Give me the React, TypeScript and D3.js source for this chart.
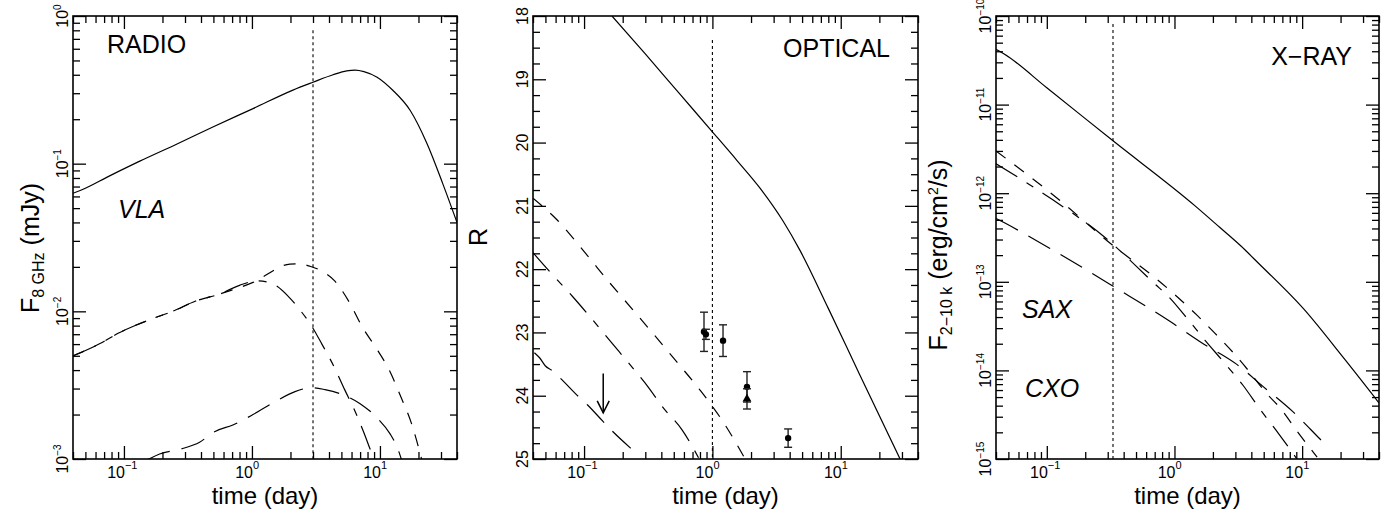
import React, { useRef, useEffect } from 'react'
import * as d3 from 'd3'

type Pt = [number, number]

const W = 1396
const H = 518
const TOP = 16
const BOTTOM = 459
const FONT = '"Liberation Sans", Arial, Helvetica, sans-serif'

// shared time axis (days)
const timeDomain: Pt = [0.04, 40]
const timeLabelPowers = [-1, 0, 1]

// RADIO panel, F at 8 GHz in mJy
const radioDomain: Pt = [1e-3, 1]
const radioLabelPowers = [-3, -2, -1, 0]
const radioSolid: Pt[] = [
  [0.04, 0.063], [0.046, 0.066], [0.078, 0.083], [0.133, 0.104], [0.26, 0.136], [0.5, 0.178],
  [1.02, 0.236], [2.09, 0.315], [3.0, 0.356], [4.3, 0.4], [5.5, 0.425], [6.4, 0.43], [7.5, 0.42],
  [9.5, 0.385], [12.6, 0.314], [17.2, 0.23], [23.3, 0.137], [31, 0.073], [40, 0.04],
]
const radioShort: Pt[] = [
  [0.04, 0.005], [0.065, 0.00605], [0.09, 0.0071], [0.16, 0.0088], [0.24, 0.01], [0.36, 0.0117],
  [0.56, 0.0131], [1.02, 0.0157], [1.98, 0.0209], [2.3, 0.021], [2.84, 0.0202], [3.52, 0.0187],
  [4.45, 0.016], [5.84, 0.0113], [7.24, 0.0079], [9.66, 0.0054], [12.0, 0.0039], [14.4, 0.0027],
  [17.8, 0.0017], [21.3, 0.00098],
]
const radioDashDot: Pt[] = [
  [0.04, 0.005], [0.065, 0.00605], [0.09, 0.0071], [0.16, 0.0088], [0.24, 0.01], [0.36, 0.0117],
  [0.56, 0.0131], [0.8, 0.015], [1.1, 0.0161], [1.46, 0.0153], [1.98, 0.0123], [2.42, 0.01],
  [2.94, 0.0079], [3.52, 0.006], [4.45, 0.0041], [5.3, 0.00295], [6.4, 0.0021], [7.6, 0.00146],
  [8.7, 0.00108], [9.2, 0.00098],
]
const radioLong: Pt[] = [
  [0.15, 0.00098], [0.19, 0.00108], [0.28, 0.00117], [0.39, 0.0013], [0.51, 0.00153], [0.71, 0.0017],
  [1.02, 0.002], [1.51, 0.00244], [2.17, 0.00286], [2.94, 0.00304], [3.72, 0.00295], [4.88, 0.00277],
  [7.0, 0.00237], [9.5, 0.0019], [12, 0.00148], [13.8, 0.00117], [14.8, 0.00098],
]
const radioMarker: Pt = [3, 0.8]

// OPTICAL panel, R magnitude
const opticalDomain: Pt = [18, 25]
const opticalLabels = [18, 19, 20, 21, 22, 23, 24, 25]
const opticalSolid: Pt[] = [
  [0.165, 18.0], [0.3, 18.6], [0.55, 19.22], [1.0, 19.83], [1.55, 20.28], [2.35, 20.72],
  [3.55, 21.24], [4.8, 21.7], [8, 22.62], [14, 23.66], [29, 25.0],
]
const opticalShort: Pt[] = [
  [0.04, 20.88], [0.0615, 21.22], [0.1017, 21.74], [0.159, 22.22], [0.249, 22.68], [0.391, 23.15],
  [0.53, 23.47], [0.8, 23.91], [1.21, 24.41], [1.8, 25.0],
]
const opticalDashDot: Pt[] = [
  [0.04, 21.74], [0.054, 22.04], [0.082, 22.44], [0.111, 22.75], [0.165, 23.17], [0.228, 23.51],
  [0.315, 23.86], [0.41, 24.18], [0.58, 24.54], [0.79, 25.0],
]
const opticalLong: Pt[] = [
  [0.041, 23.32], [0.045, 23.4], [0.05, 23.53], [0.056, 23.6], [0.065, 23.72], [0.088, 23.99],
  [0.107, 24.15], [0.141, 24.41], [0.168, 24.57], [0.228, 24.82], [0.24, 24.86],
]
const opticalMarker: Pt = [1, 18.38]
// detections: day, R, error
const opticalDays = [0.86, 0.89, 1.21, 1.86, 3.89]
const opticalMags = [22.99, 23.03, 23.13, 23.86, 24.67]
const opticalErrs = [0.31, 0.08, 0.25, 0.24, 0.145]
const opticalTriangleDays = [1.86]
const opticalTriangleMags = [24.05]
const opticalTriangleErrs = [0.16]
// upper limit: day, R from, R to
const opticalLimit = [0.141, 23.65, 24.27]

// X-RAY panel, F 2-10 keV in erg/cm2/s
const xrayDomain: Pt = [1e-15, 1e-10]
const xrayLabelPowers = [-15, -14, -13, -12, -11, -10]
const xraySolid: Pt[] = [
  [0.04, 4.2e-11], [0.046, 3.75e-11], [0.1, 1.55e-11], [0.33, 3.9e-12], [1.45, 7.2e-13],
  [2.27, 4.1e-13], [3.3, 2.55e-13], [4.53, 1.63e-13], [10.2, 5.0e-14], [20.9, 1.41e-14], [40, 4.3e-15],
]
const xrayShort: Pt[] = [
  [0.04, 3.0e-12], [0.116, 9.2e-13], [0.33, 2.57e-13], [0.7, 1.12e-13], [1.06, 6.7e-14],
  [1.5, 4.2e-14], [2.07, 2.63e-14], [2.87, 1.6e-14], [3.83, 9.8e-15], [5.1, 5.8e-15],
  [6.95, 3.56e-15], [9.1, 2.07e-15], [13.1, 1.05e-15],
]
const xrayDashDot: Pt[] = [
  [0.04, 2.15e-12], [0.097, 9.6e-13], [0.286, 3.16e-13], [0.7, 9.5e-14], [0.89, 6.9e-14],
  [1.25, 3.9e-14], [1.73, 2.2e-14], [2.48, 1.2e-14], [3.44, 6.8e-15], [4.67, 3.66e-15],
  [6.6, 1.9e-15], [9.1, 1.0e-15],
]
const xrayLong: Pt[] = [
  [0.04, 5.2e-13], [0.047, 4.6e-13], [0.106, 2.38e-13], [0.19, 1.45e-13], [0.342, 8.65e-14],
  [0.92, 3.58e-14], [1.61, 2.08e-14], [3.08, 1.17e-14], [4.93, 6.6e-15], [8.5, 3.4e-15],
  [13.8, 1.68e-15], [16.2, 1.33e-15],
]
const xrayMarker: Pt = [0.33, 8.1e-11]

const SHORT = '12,11'
const DASHDOT = '25,11,8,11'
const LONG = '25,12'

const MINUS = '\u2212'
const sup = (p: number) => (p < 0 ? MINUS + Math.abs(p) : String(p))
const isDecade = (v: number) => Math.abs(Math.log10(v) - Math.round(Math.log10(v))) < 1e-6

const panels = [
  {
    left: 73, width: 384, log: true, yDomain: radioDomain, yPowers: radioLabelPowers,
    curves: [
      { data: radioSolid, dash: null },
      { data: radioShort, dash: SHORT },
      { data: radioDashDot, dash: DASHDOT },
      { data: radioLong, dash: LONG },
    ],
    marker: radioMarker,
    labelX: 68,
  },
  {
    left: 533, width: 385, log: false, yDomain: opticalDomain, yPowers: [],
    curves: [
      { data: opticalSolid, dash: null },
      { data: opticalShort, dash: SHORT },
      { data: opticalDashDot, dash: DASHDOT },
      { data: opticalLong, dash: LONG },
    ],
    marker: opticalMarker,
    labelX: 528,
  },
  {
    left: 996, width: 383, log: true, yDomain: xrayDomain, yPowers: xrayLabelPowers,
    curves: [
      { data: xraySolid, dash: null },
      { data: xrayShort, dash: SHORT },
      { data: xrayDashDot, dash: DASHDOT },
      { data: xrayLong, dash: LONG },
    ],
    marker: xrayMarker,
    labelX: 991,
  },
]

export default function App() {
  const ref = useRef<SVGSVGElement>(null)

  useEffect(() => {
    const svg = d3.select(ref.current)
    svg.selectAll('*').remove()
    svg.append('rect').attr('width', W).attr('height', H).attr('fill', '#fff')
    const defs = svg.append('defs')

    const scales: any[] = []

    panels.forEach((p, i) => {
      const right = p.left + p.width
      const x = d3.scaleLog().domain(timeDomain).range([p.left, right])
      const y: any = p.log
        ? d3.scaleLog().domain(p.yDomain).range([BOTTOM, TOP])
        : d3.scaleLinear().domain(p.yDomain).range([TOP, BOTTOM])
      scales.push({ x, y })

      defs.append('clipPath').attr('id', `clip${i}`)
        .append('rect').attr('x', p.left).attr('y', TOP).attr('width', p.width).attr('height', BOTTOM - TOP)

      const g = svg.append('g')

      // ticks on all four sides, pointing inwards
      const xTicks = x.ticks()
      const xMajor = xTicks.filter(isDecade)
      const xMinor = xTicks.filter(v => !isDecade(v))
      let yMajor: number[]
      let yMinor: number[]
      if (p.log) {
        const yt = y.ticks()
        yMajor = yt.filter(isDecade)
        yMinor = yt.filter((v: number) => !isDecade(v))
      } else {
        yMajor = opticalLabels
        yMinor = d3.range(18, 25.001, 0.25).filter(v => Math.abs(v - Math.round(v)) > 0.01)
      }
      const axes: [any, number[], number, string][] = [
        [d3.axisBottom(x), xMajor, 13, `translate(0,${BOTTOM})`],
        [d3.axisBottom(x), xMinor, 7, `translate(0,${BOTTOM})`],
        [d3.axisTop(x), xMajor, 13, `translate(0,${TOP})`],
        [d3.axisTop(x), xMinor, 7, `translate(0,${TOP})`],
        [d3.axisLeft(y), yMajor, 13, `translate(${p.left},0)`],
        [d3.axisLeft(y), yMinor, 7, `translate(${p.left},0)`],
        [d3.axisRight(y), yMajor, 13, `translate(${right},0)`],
        [d3.axisRight(y), yMinor, 7, `translate(${right},0)`],
      ]
      axes.forEach(([ax, vals, len, tr]) => {
        const a = g.append('g').attr('transform', tr)
          .call(ax.tickValues(vals).tickSizeInner(-len).tickSizeOuter(0).tickFormat(() => ''))
        a.select('.domain').remove()
        a.selectAll('line').attr('stroke', '#000').attr('stroke-width', 1.3)
      })

      g.append('rect')
        .attr('x', p.left).attr('y', TOP).attr('width', p.width).attr('height', BOTTOM - TOP)
        .attr('fill', 'none').attr('stroke', '#000').attr('stroke-width', 1.6)

      // x tick labels
      timeLabelPowers.forEach(pw => {
        const tx = x(Math.pow(10, pw))
        g.append('text').attr('x', tx + 1).attr('y', 478).attr('text-anchor', 'end')
          .attr('font-size', 16).attr('font-family', FONT).text('10')
        g.append('text').attr('x', tx + 1).attr('y', 469).attr('text-anchor', 'start')
          .attr('font-size', 11).attr('font-family', FONT).text(sup(pw))
      })

      // y tick labels (rotated)
      if (p.log) {
        p.yPowers.forEach(pw => {
          const t = g.append('text')
            .attr('transform', `translate(${p.labelX},${y(Math.pow(10, pw))}) rotate(-90)`)
            .attr('text-anchor', 'middle').attr('font-size', 16).attr('font-family', FONT)
          t.append('tspan').text('10')
          t.append('tspan').attr('dy', -7).attr('font-size', 10).text(sup(pw))
        })
      } else {
        opticalLabels.forEach(v => {
          g.append('text')
            .attr('transform', `translate(${p.labelX},${y(v)}) rotate(-90)`)
            .attr('text-anchor', 'middle').attr('font-size', 16).attr('font-family', FONT)
            .text(v)
        })
      }

      // x title
      g.append('text').attr('x', p.left + p.width / 2).attr('y', 504).attr('text-anchor', 'middle')
        .attr('font-size', 24).attr('font-family', FONT).text('time (day)')

      const plot = g.append('g').attr('clip-path', `url(#clip${i})`)

      // vertical dotted marker
      plot.append('line')
        .attr('x1', x(p.marker[0])).attr('x2', x(p.marker[0]))
        .attr('y1', y(p.marker[1])).attr('y2', BOTTOM)
        .attr('stroke', '#000').attr('stroke-width', 1.1).attr('stroke-dasharray', '3,3')

      const line = d3.line<Pt>().x(d => x(d[0])).y(d => y(d[1])).curve(d3.curveMonotoneX)
      p.curves.forEach(c => {
        const path = plot.append('path').attr('d', line(c.data))
          .attr('fill', 'none').attr('stroke', '#000').attr('stroke-width', 1.2)
        if (c.dash) path.attr('stroke-dasharray', c.dash)
      })
    })

    // optical detections
    const { x: ox, y: oy } = scales[1]
    const og = svg.append('g')
    const bar = (t: number, m: number, e: number) => {
      const cx = ox(t)
      og.append('line').attr('x1', cx).attr('x2', cx).attr('y1', oy(m - e)).attr('y2', oy(m + e))
        .attr('stroke', '#222').attr('stroke-width', 1.4)
      ;[m - e, m + e].forEach(v => {
        og.append('line').attr('x1', cx - 4).attr('x2', cx + 4).attr('y1', oy(v)).attr('y2', oy(v))
          .attr('stroke', '#222').attr('stroke-width', 1.4)
      })
    }
    opticalDays.forEach((t, i) => {
      bar(t, opticalMags[i], opticalErrs[i])
      og.append('circle').attr('cx', ox(t)).attr('cy', oy(opticalMags[i])).attr('r', 3.2).attr('fill', '#000')
    })
    opticalTriangleDays.forEach((t, i) => {
      bar(t, opticalTriangleMags[i], opticalTriangleErrs[i])
      og.append('path')
        .attr('d', d3.symbol().type(d3.symbolTriangle).size(34)())
        .attr('transform', `translate(${ox(t)},${oy(opticalTriangleMags[i])})`)
        .attr('fill', '#000')
    })
    // upper limit arrow
    const [lt, l0, l1] = opticalLimit
    const ax = ox(lt)
    og.append('line').attr('x1', ax).attr('x2', ax).attr('y1', oy(l0)).attr('y2', oy(l1))
      .attr('stroke', '#000').attr('stroke-width', 1.5)
    og.append('path')
      .attr('d', `M${ax - 6},${oy(l1) - 12}L${ax},${oy(l1)}L${ax + 6},${oy(l1) - 12}`)
      .attr('fill', 'none').attr('stroke', '#000').attr('stroke-width', 1.5)

    // panel texts
    const txt = (xx: number, yy: number, s: string, anchor = 'start', italic = false) =>
      svg.append('text').attr('x', xx).attr('y', yy).attr('text-anchor', anchor)
        .attr('font-size', 25).attr('font-family', FONT)
        .attr('font-style', italic ? 'italic' : 'normal').text(s)
    txt(107, 53, 'RADIO')
    txt(118, 218, 'VLA', 'start', true)
    txt(890, 57, 'OPTICAL', 'end')
    txt(1352, 65, `X${MINUS}RAY`, 'end')
    txt(1022, 318, 'SAX', 'start', true)
    txt(1025, 397, 'CXO', 'start', true)

    // y titles
    const t1 = svg.append('text').attr('transform', 'translate(39,248) rotate(-90)')
      .attr('text-anchor', 'middle').attr('font-size', 25).attr('font-family', FONT)
    t1.append('tspan').text('F')
    t1.append('tspan').attr('dy', 5).attr('font-size', 16).text('8 GHz')
    t1.append('tspan').attr('dy', -5).text(' (mJy)')

    svg.append('text').attr('transform', 'translate(487,237) rotate(-90)')
      .attr('text-anchor', 'middle').attr('font-size', 25).attr('font-family', FONT).text('R')

    const t3 = svg.append('text').attr('transform', 'translate(947,255) rotate(-90)')
      .attr('text-anchor', 'middle').attr('font-size', 25).attr('font-family', FONT)
    t3.append('tspan').text('F')
    t3.append('tspan').attr('dy', 5).attr('font-size', 16).text(`2${MINUS}10 k`)
    t3.append('tspan').attr('dy', -5).text(' (erg/cm')
    t3.append('tspan').attr('dy', -9).attr('font-size', 14).text('2')
    t3.append('tspan').attr('dy', 9).text('/s)')
  }, [])

  return (
    <svg ref={ref} width={W} height={H}
      style={{ position: 'absolute', left: 0, top: 0, display: 'block' }} />
  )
}
